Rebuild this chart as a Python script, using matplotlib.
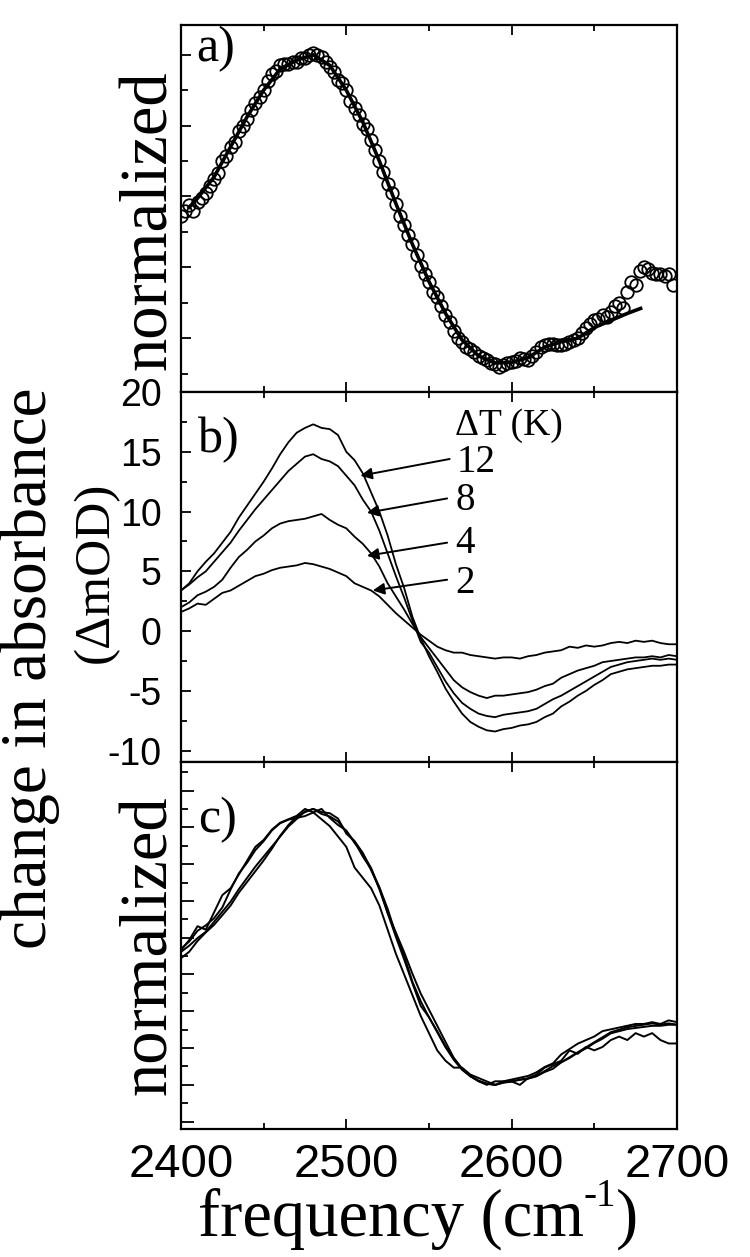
import numpy as np
import matplotlib
matplotlib.use("Agg")
import matplotlib.pyplot as plt
from matplotlib.ticker import MultipleLocator, NullFormatter

plt.rcParams["axes.unicode_minus"] = False
SANS = "Liberation Sans"
SERIF = "Liberation Serif"

# ---- panel a: normalized spectrum (circles) and fitted line ----
freq_a = np.arange(2400, 2700, 2.5)
circles_a = [4.45, 4.6, 4.75, 4.6, 4.85, 4.95, 5.1, 5.3, 5.5, 5.65,
             6.0, 6.15, 6.4, 6.55, 6.85, 7.0, 7.2, 7.45, 7.65, 7.8,
             8.0, 8.25, 8.45, 8.55, 8.7, 8.75, 8.75, 8.8, 8.8, 8.9,
             8.9, 9.0, 9.05, 9.0, 8.95, 8.8, 8.65, 8.5, 8.3, 8.2,
             8.0, 7.7, 7.5, 7.3, 7.05, 6.9, 6.6, 6.3, 6.0, 5.7,
             5.35, 5.1, 4.8, 4.45, 4.2, 3.9, 3.65, 3.35, 3.05, 2.8,
             2.6, 2.3, 2.15, 1.9, 1.65, 1.45, 1.2, 1.0, 0.9, 0.75,
             0.7, 0.6, 0.5, 0.45, 0.38, 0.3, 0.28, 0.2, 0.24, 0.3,
             0.33, 0.35, 0.43, 0.4, 0.38, 0.5, 0.6, 0.75, 0.8, 0.85,
             0.85, 0.8, 0.8, 0.85, 0.9, 0.95, 1.0, 1.15, 1.28, 1.4,
             1.5, 1.55, 1.65, 1.6, 1.75, 1.9, 2.0, 1.85, 2.3, 2.6,
             2.5, 2.9, 3.0, 2.95, 2.85, 2.8, 2.8, 2.75, 2.8, 2.5]

line_freq_a = [2405, 2410, 2420, 2430, 2440, 2450, 2460, 2470, 2480, 2490,
               2500, 2510, 2520, 2530, 2540, 2550, 2560, 2570, 2580, 2590,
               2600, 2610, 2620, 2630, 2640, 2650, 2660, 2670, 2678]
line_a = [4.7, 4.95, 5.55, 6.4, 7.25, 8.0, 8.6, 8.85, 9.0, 8.7,
          8.0, 7.1, 6.0, 4.8, 3.65, 2.6, 1.7, 0.95, 0.5, 0.3,
          0.32, 0.45, 0.75, 0.9, 1.0, 1.3, 1.5, 1.7, 1.84]

# ---- panel b: change in absorbance (mOD) for each temperature jump ----
freq_b = np.arange(2400, 2701, 5)
dT_labels = ["12", "8", "4", "2"]
dA_12 = [3.4, 4.0, 5.0, 5.8, 6.5, 7.4, 8.3, 9.5, 10.5, 11.5,
         12.5, 13.6, 14.8, 15.8, 16.6, 17.0, 17.3, 17.0, 16.9, 16.4,
         15.0, 14.3, 13.2, 11.6, 10.0, 8.0, 5.6, 3.6, 1.2, -0.6,
         -2.1, -3.4, -4.8, -5.9, -6.9, -7.6, -8.0, -8.3, -8.4, -8.2,
         -8.1, -7.9, -7.8, -7.6, -7.2, -6.9, -6.3, -5.9, -5.4, -5.0,
         -4.5, -4.1, -3.6, -3.4, -3.2, -3.1, -3.0, -2.9, -2.9, -2.8, -2.8]
dA_8 = [3.4, 3.9, 4.5, 5.0, 5.8, 6.6, 7.4, 8.4, 9.3, 10.2,
        11.0, 11.8, 12.6, 13.4, 14.0, 14.6, 14.8, 14.4, 14.2, 13.8,
        13.0, 12.2, 11.0, 10.0, 8.4, 6.5, 4.6, 2.8, 0.9, -0.9,
        -1.8, -3.0, -4.2, -5.2, -6.0, -6.5, -6.9, -7.1, -7.2, -7.0,
        -6.9, -6.8, -6.7, -6.5, -6.1, -5.7, -5.4, -5.0, -4.6, -4.2,
        -3.8, -3.4, -3.0, -2.8, -2.6, -2.5, -2.4, -2.3, -2.4, -2.3, -2.4]
dA_4 = [2.0, 2.4, 3.0, 3.3, 3.7, 4.3, 5.3, 6.2, 6.8, 7.5,
        8.0, 8.6, 9.0, 9.2, 9.3, 9.4, 9.6, 9.8, 9.3, 8.9,
        8.6, 7.9, 7.3, 6.5, 5.4, 4.0, 2.9, 1.8, 0.6, -0.5,
        -1.4, -2.3, -3.2, -4.1, -4.7, -5.1, -5.4, -5.6, -5.4, -5.4,
        -5.3, -5.2, -5.1, -4.9, -4.6, -4.4, -3.9, -3.6, -3.3, -3.1,
        -2.9, -2.6, -2.5, -2.4, -2.3, -2.2, -2.2, -2.1, -2.2, -2.0, -2.1]
dA_2 = [1.6, 1.9, 2.3, 2.2, 2.7, 3.2, 3.4, 3.8, 4.2, 4.6,
        4.8, 5.1, 5.3, 5.4, 5.5, 5.7, 5.6, 5.4, 5.2, 4.9,
        4.6, 4.0, 3.7, 3.4, 2.9, 2.2, 1.5, 0.9, 0.3, -0.3,
        -0.8, -1.3, -1.6, -1.8, -1.8, -2.0, -2.1, -2.2, -2.3, -2.2,
        -2.2, -2.3, -2.1, -2.0, -1.8, -1.7, -1.6, -1.3, -1.4, -1.2,
        -1.3, -1.2, -1.0, -0.9, -1.0, -0.8, -0.9, -0.8, -1.0, -1.1, -1.1]
curves_b = [dA_12, dA_8, dA_4, dA_2]

# label anchor (text) and arrow head positions, in data units of panel b
label_pos = [(2567, 14.1), (2566, 10.9), (2566, 7.3), (2566, 4.0)]
arrow_tail = [(2562.5, 14.4), (2561, 11.1), (2561, 7.4), (2561, 4.3)]
arrow_head = [(2508.5, 13.0), (2512.5, 9.9), (2512.5, 6.3), (2516, 3.4)]

fig = plt.figure(figsize=(7.5, 12.57), dpi=100)
left, width = 0.2413, 0.6613
ax_a = fig.add_axes([left, 0.6881, width, 0.2920])
ax_b = fig.add_axes([left, 0.3938, width, 0.2943])
ax_c = fig.add_axes([left, 0.1018, width, 0.2920])

for ax in (ax_a, ax_b, ax_c):
    ax.set_xlim(2400, 2700)
    ax.xaxis.set_major_locator(MultipleLocator(100))
    ax.xaxis.set_minor_locator(MultipleLocator(50))
    ax.tick_params(axis="x", which="both", direction="in", top=True, bottom=True, width=1.3)
    ax.tick_params(axis="x", which="major", length=7)
    ax.tick_params(axis="x", which="minor", length=4)
    ax.tick_params(axis="y", which="both", direction="in", left=True, right=False, width=1.3)
    for s in ax.spines.values():
        s.set_linewidth(1.6)

# panel a
ax_a.plot(freq_a, circles_a, "o", mfc="none", mec="k", ms=9, mew=1.3)
ax_a.plot(line_freq_a, line_a, "-", color="k", lw=2.6)
ax_a.set_ylim(-0.52, 9.84)
ax_a.yaxis.set_major_locator(MultipleLocator(2, offset=1))
ax_a.yaxis.set_minor_locator(MultipleLocator(1))
ax_a.tick_params(axis="y", which="major", length=7)
ax_a.tick_params(axis="y", which="minor", length=5)
ax_a.xaxis.set_major_formatter(NullFormatter())
ax_a.yaxis.set_major_formatter(NullFormatter())
ax_a.text(0.03, 0.935, "a)", transform=ax_a.transAxes, fontsize=36,
          family=SERIF, va="center", ha="left")

# panel b
for y in curves_b:
    ax_b.plot(freq_b, y, "-", color="k", lw=1.3)
ax_b.set_ylim(-10.95, 20)
ax_b.yaxis.set_major_locator(MultipleLocator(5))
ax_b.yaxis.set_minor_locator(MultipleLocator(2.5))
ax_b.tick_params(axis="y", which="major", length=7, labelsize=27, pad=14)
ax_b.tick_params(axis="y", which="minor", length=4)
for t in ax_b.get_yticklabels():
    t.set_family(SANS)
ax_b.xaxis.set_major_formatter(NullFormatter())
ax_b.text(0.035, 0.87, "b)", transform=ax_b.transAxes, fontsize=36,
          family=SERIF, va="center", ha="left")
ax_b.text(2565.5, 17.2, "ΔT (K)", fontsize=27, family=SERIF, va="center", ha="left")
for lab, lp, at, ah in zip(dT_labels, label_pos, arrow_tail, arrow_head):
    ax_b.text(lp[0], lp[1], lab, fontsize=28, family=SERIF, va="center", ha="left")
    ax_b.annotate("", xy=ah, xytext=at,
                  arrowprops=dict(arrowstyle="-|>", color="k", lw=1.4,
                                  mutation_scale=17, shrinkA=0, shrinkB=0))

# panel c: each curve of panel b scaled between its minimum and maximum
for y in curves_b:
    y = np.asarray(y)
    ax_c.plot(freq_b, (y - y.min()) / (y.max() - y.min()), "-", color="k", lw=1.4)
ax_c.set_ylim(-0.16, 1.17)
ax_c.yaxis.set_major_locator(MultipleLocator(2 / 15))
ax_c.yaxis.set_minor_locator(MultipleLocator(1 / 15))
ax_c.tick_params(axis="y", which="major", length=9)
ax_c.tick_params(axis="y", which="minor", length=5)
ax_c.yaxis.set_major_formatter(NullFormatter())
ax_c.tick_params(axis="x", which="major", labelsize=34, pad=10)
for t in ax_c.get_xticklabels():
    t.set_family(SANS)
ax_c.text(0.035, 0.842, "c)", transform=ax_c.transAxes, fontsize=36,
          family=SERIF, va="center", ha="left")

# axis titles
W, H = 750, 1257

# x title built from three pieces so the superscript keeps a plain hyphen
renderer = fig.canvas.get_renderer()
xl_y = 1 - 1236 / H
parts = [("frequency (cm", 48, 0.0), ("-1", 28, 0.024), (")", 48, 0.0)]
texts = [fig.text(0, xl_y + dy, s, fontsize=fs, family=SERIF, ha="left", va="baseline")
         for s, fs, dy in parts]
widths = [t.get_window_extent(renderer).width / W for t in texts]
x0 = 418 / W - sum(widths) / 2
for t, w in zip(texts, widths):
    t.set_x(x0)
    x0 += w

fig.text(30 / W, 1 - 668 / H, "change in absorbance", fontsize=47, family=SERIF,
         rotation=90, ha="center", va="center")
fig.text(96 / W, 1 - 572 / H, "(ΔmOD)", fontsize=37, family=SERIF,
         rotation=90, ha="center", va="center")
fig.text(150 / W, 1 - 220 / H, "normalized", fontsize=48, family=SERIF,
         rotation=90, ha="center", va="center")
fig.text(150 / W, 1 - 945 / H, "normalized", fontsize=48, family=SERIF,
         rotation=90, ha="center", va="center")

fig.savefig("out.png", dpi=100)
